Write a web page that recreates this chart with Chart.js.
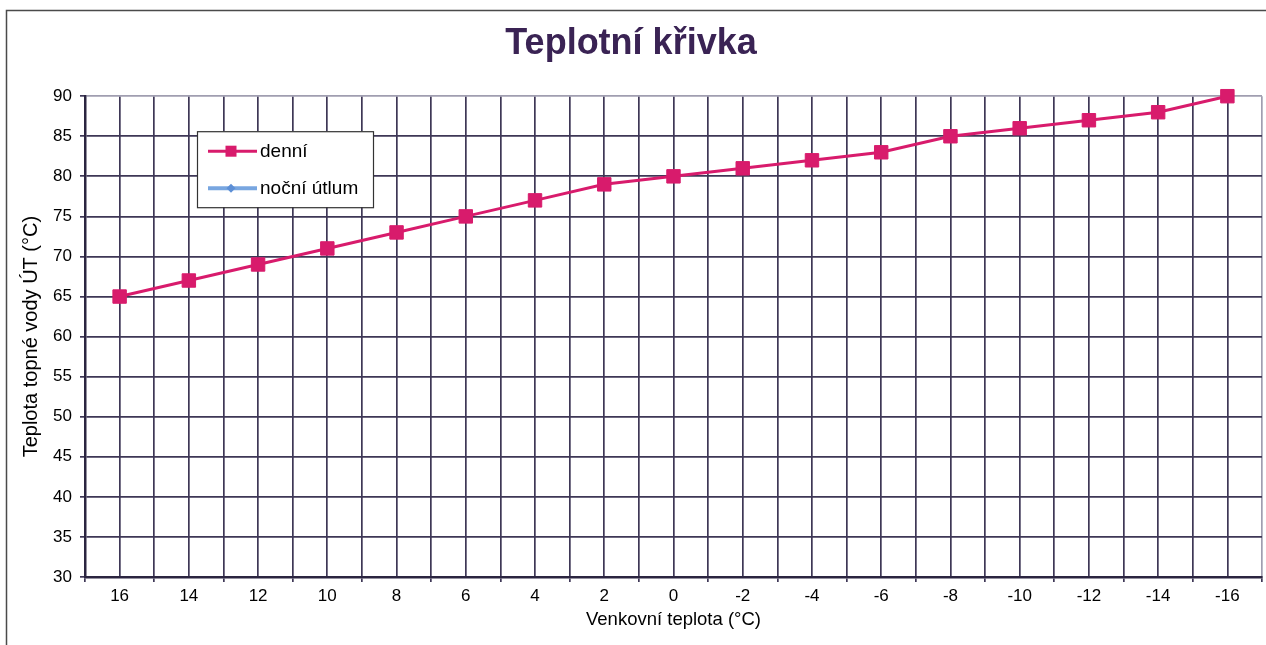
<!DOCTYPE html>
<html>
<head>
<meta charset="utf-8">
<script src="https://cdn.jsdelivr.net/npm/chart.js@4/dist/chart.umd.min.js"></script>
<style>
  html, body { margin: 0; padding: 0; background: #fff; }
  #wrap { position: relative; width: 1266px; height: 645px; }
</style>
</head>
<body>
<div id="wrap"><canvas id="krivka" width="1266" height="645"></canvas></div>
<script>
// venkovni teplota -> teplota topne vody
const outdoorTemps = [16, 14, 12, 10, 8, 6, 4, 2, 0, -2, -4, -6, -8, -10, -12, -14, -16]
const dayTemps     = [65, 67, 69, 71, 73, 75, 77, 79, 80, 81, 82, 83, 85, 86, 87, 88, 90]
const nightTemps   = []   // v grafu neni nic vykresleno
const seriesNames  = ['denní', 'noční útlum']
const yTicks       = [30, 35, 40, 45, 50, 55, 60, 65, 70, 75, 80, 85, 90]

const gridDark = '#3e3756'
const gridLight = '#a09eb0'

Chart.defaults.font.family = "'Liberation Sans', Arial, sans-serif"
Chart.defaults.color = '#000'

// ramecek kolem celeho grafu (jen vlevo a nahore je videt)
const frame = {
  id: 'frame',
  beforeDraw(chart) {
    const ctx = chart.ctx
    ctx.save()
    ctx.fillStyle = '#fff'
    ctx.fillRect(0, 0, chart.width, chart.height)
    ctx.strokeStyle = '#4a4a4a'
    ctx.lineWidth = 1.5
    ctx.beginPath()
    ctx.moveTo(6.5, chart.height)
    ctx.lineTo(6.5, 10.5)
    ctx.lineTo(chart.width, 10.5)
    ctx.stroke()
    ctx.restore()
  }
}

// legenda uvnitr grafu, v ramecku
const boxLegend = {
  id: 'boxLegend',
  afterDatasetsDraw(chart) {
    const ctx = chart.ctx
    const a = chart.chartArea
    const x = a.left + 112, y = a.top + 35, w = 176, h = 76
    ctx.save()
    ctx.fillStyle = '#fff'
    ctx.fillRect(x, y, w, h)
    ctx.strokeStyle = '#333'
    ctx.lineWidth = 1.2
    ctx.strokeRect(x + 0.5, y + 0.5, w, h)
    chart.data.datasets.forEach((ds, i) => {
      const cy = y + 20 + i * 37
      const mx = x + 34
      ctx.strokeStyle = ds.borderColor
      ctx.lineWidth = ds.borderWidth
      ctx.beginPath()
      ctx.moveTo(x + 11, cy)
      ctx.lineTo(x + 60, cy)
      ctx.stroke()
      ctx.fillStyle = ds.pointBackgroundColor
      if (ds.pointStyle === 'rect') {
        ctx.fillRect(mx - 5.5, cy - 5.5, 11, 11)
      } else {
        ctx.beginPath()
        ctx.moveTo(mx, cy - 4.5)
        ctx.lineTo(mx + 4.5, cy)
        ctx.lineTo(mx, cy + 4.5)
        ctx.lineTo(mx - 4.5, cy)
        ctx.closePath()
        ctx.fill()
      }
      ctx.fillStyle = '#000'
      ctx.font = "19px 'Liberation Sans', Arial, sans-serif"
      ctx.textBaseline = 'middle'
      ctx.textAlign = 'left'
      ctx.fillText(ds.label, x + 63, cy + 1)
    })
    ctx.restore()
  }
}

new Chart(document.getElementById('krivka').getContext('2d'), {
  type: 'line',
  data: {
    datasets: [
      {
        label: seriesNames[0],
        data: outdoorTemps.map((t, i) => ({ x: t, y: dayTemps[i] })),
        borderColor: '#d81b6c',
        backgroundColor: '#d81b6c',
        pointBackgroundColor: '#d81b6c',
        pointBorderColor: '#d81b6c',
        borderWidth: 3,
        pointStyle: 'rect',
        pointRadius: 9.5,
        pointBorderWidth: 1,
        tension: 0,
        clip: false
      },
      {
        label: seriesNames[1],
        data: nightTemps.map((v, i) => ({ x: outdoorTemps[i], y: v })),
        borderColor: '#78a6e0',
        backgroundColor: '#78a6e0',
        pointBackgroundColor: '#5d8fd6',
        borderWidth: 4,
        pointStyle: 'rectRot',
        pointRadius: 5
      }
    ]
  },
  options: {
    responsive: false,
    animation: false,
    devicePixelRatio: 1,
    layout: { autoPadding: false, padding: { left: 0, right: 4, top: 0, bottom: 0 } },
    plugins: {
      legend: { display: false },
      tooltip: { enabled: false },
      title: {
        display: true,
        text: 'Teplotní křivka',
        color: '#3a2354',
        font: { size: 36, weight: 'bold' },
        padding: { top: 22, bottom: 31 }
      }
    },
    scales: {
      x: {
        type: 'linear',
        reverse: true,
        min: outdoorTemps[outdoorTemps.length - 1] - 1,
        max: outdoorTemps[0] + 1,
        afterFit(scale) {
          scale.height = 68
          scale.paddingLeft = 0
          scale.paddingRight = 0
        },
        ticks: {
          stepSize: 1,
          autoSkip: false,
          maxRotation: 0,
          padding: 4,
          font: { size: 17 },
          callback: v => (v % 2 === 0 ? String(v) : '')
        },
        grid: {
          color: ctx => (ctx.tick && ctx.tick.value === outdoorTemps[outdoorTemps.length - 1] - 1 ? gridLight : gridDark),
          lineWidth: 1.7,
          tickLength: 5,
          tickColor: ctx => (ctx.tick && Math.abs(ctx.tick.value) % 2 === 1 ? gridDark : 'rgba(0,0,0,0)'),
          tickWidth: 1.7
        },
        border: { color: '#2b2540', width: 2.5 },
        title: {
          display: true,
          text: 'Venkovní teplota (°C)',
          font: { size: 18.5 },
          padding: { top: 0, bottom: 14 }
        }
      },
      y: {
        min: yTicks[0],
        max: yTicks[yTicks.length - 1],
        afterFit(scale) { scale.width = 85 },
        ticks: {
          stepSize: yTicks[1] - yTicks[0],
          padding: 8,
          font: { size: 17 }
        },
        grid: {
          color: ctx => (ctx.tick && ctx.tick.value === yTicks[yTicks.length - 1] ? gridLight : gridDark),
          lineWidth: 1.7,
          tickLength: 5,
          tickColor: gridDark,
          tickWidth: 1.7
        },
        border: { color: '#2b2540', width: 2.5 },
        title: {
          display: true,
          text: 'Teplota topné vody ÚT (°C)',
          font: { size: 20 },
          padding: { top: 19, bottom: 0 }
        }
      }
    }
  },
  plugins: [frame, boxLegend]
})
</script>
</body>
</html>
